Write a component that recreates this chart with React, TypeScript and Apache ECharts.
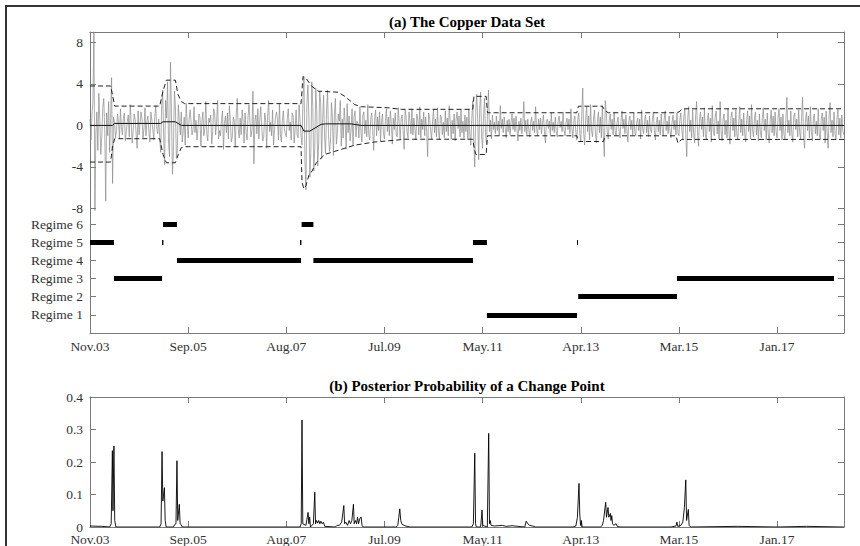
import { useEffect, useRef } from "react";
import * as echarts from "echarts";

// ---------- axes ----------
const xTickIndex = [0, 500, 1000, 1500, 2000, 2500, 3000, 3500];
const xTickLabels = ["Nov.03", "Sep.05", "Aug.07", "Jul.09", "May.11", "Apr.13", "Mar.15", "Jan.17"];
const xMax = 3841;
const yTicks = [8, 4, 0, -4, -8];
const regimeNames = ["Regime 1", "Regime 2", "Regime 3", "Regime 4", "Regime 5", "Regime 6"];
const regimeLevels = [-18.25, -16.5, -14.75, -13, -11.25, -9.5];

// ---------- copper returns (sampled every 5 observations, blocks of 250 obs) ----------
const sampleStep = 5;
const returnsBlock00 = [0.6, -1.4, 1.1, 2.2, 9.5, -8.2, -0.7, 1.3, -2.4, 3.1, 0.5, -2.8, -1.1, 1.7, 2.6, -0.4, -7.3, 1.2, -1.0, 2.3, -2.6, 0.7, 4.6, -5.6, 0.8, 0.3, -1.2, -0.5, 1.1, 0.4, -1.3, 1.6, -0.2, -0.9, 0.7, 1.2, -1.5, -0.6, 0.4, 1.0, -1.1, 2.0, 0.2, -1.7, -0.5, 1.1, 0.6, -0.8, -2.2, 1.4];
const returnsBlock01 = [-0.9, 0.2, 1.3, 0.6, -1.2, -0.3, 1.7, -1.0, 0.4, 0.9, -0.6, -1.6, 1.3, 0.5, -0.4, -1.4, 0.8, 1.9, -0.3, -0.8, 0.6, -1.1, -2.6, 1.8, 3.4, -0.9, -3.8, 2.4, 0.7, 4.2, -1.6, -3.0, 6.1, 1.2, -4.7, -2.5, 3.3, 1.9, -3.1, -2.4, 2.0, 0.5, -0.9, 1.3, -1.6, -0.5, 0.8, -1.9, 2.1, 0.3];
const returnsBlock02 = [-1.2, 0.6, 1.5, 0.3, -0.9, -0.4, 1.8, -0.7, 0.5, -1.4, -0.3, 1.1, 0.8, -2.0, 0.4, 1.3, -1.0, -0.2, 2.3, -0.8, -1.5, 0.7, 0.3, 1.0, -1.8, -0.6, 1.6, 1.2, -0.9, 0.4, 2.4, -1.3, -0.5, -1.0, 0.6, 1.4, -2.3, 0.2, 0.9, -0.7, 1.2, -1.3, 1.9, 0.5, -1.6, -1.1, 0.8, 0.4, -2.1, 1.0];
const returnsBlock03 = [2.6, -0.3, -1.2, 0.7, -0.9, 1.5, 0.4, -1.7, 1.2, -0.6, -1.4, 0.8, 2.0, 0.3, -1.1, -0.5, 3.3, -3.7, 0.4, 1.0, -0.8, 1.6, -1.3, 0.6, 1.8, -0.2, -1.5, -1.1, 1.2, 0.5, -2.2, 0.9, 2.4, -0.6, 0.3, -1.0, 1.5, -1.9, -0.4, 0.8, 1.3, 0.6, -1.4, 2.1, -0.9, -1.6, 0.5, 1.4, -0.3, -0.8];
const returnsBlock04 = [-1.1, 0.7, 1.6, -0.5, 0.3, -1.4, 1.2, 0.9, -1.7, -0.4, 1.5, -0.9, -1.2, 2.0, 0.6, -1.0, -1.9, 2.8, 4.7, -3.4, -6.2, 2.1, 3.9, 0.8, -5.0, -2.6, 4.2, 1.8, -4.4, -2.2, 3.6, 1.5, -3.9, -1.7, 3.3, 2.2, -3.2, 0.6, 2.9, -1.2, -2.7, 1.4, 3.4, -0.9, -2.5, -1.6, 2.2, 0.8, -2.9, 1.0];
const returnsBlock05 = [2.6, -1.8, -0.8, 1.1, 0.4, 2.4, -2.0, 0.6, -1.2, 1.7, 0.3, -2.3, 2.1, -0.7, 0.9, -1.5, -0.5, 1.6, -1.9, 0.8, 1.4, -1.1, 0.4, 0.2, -1.2, 1.8, -0.6, -1.6, 0.9, 1.3, -0.8, 0.5, -1.1, 2.0, -0.9, -1.4, 0.6, 1.2, -0.4, -2.4, 0.7, 1.5, -1.0, 0.8, -0.5, 1.3, -1.5, 0.4, 1.1, -0.8];
const returnsBlock06 = [-1.3, 0.5, 1.6, -0.6, 0.8, -1.0, 1.4, 0.2, -1.8, 0.7, -0.4, 1.2, -0.9, -1.1, 1.7, 0.3, -1.3, 0.6, 1.0, -0.5, -2.3, 1.5, 0.9, -0.6, -1.2, 1.3, 0.4, -0.8, 1.6, -0.9, 0.7, -0.3, -1.4, 1.1, 0.5, -0.9, 1.8, -1.2, 0.6, -0.4, 1.3, -1.0, 0.8, -0.6, -3.0, 1.2, 0.7, -0.5, -1.3, 0.4];
const returnsBlock07 = [1.5, -0.7, 0.6, -1.1, 1.7, -0.5, -1.4, 1.0, 0.8, -0.9, 0.3, -1.2, 1.4, -0.6, 0.7, -1.0, 1.9, 0.4, -1.3, 0.5, -0.8, 1.1, -1.5, 0.6, 1.3, -0.3, 0.9, -1.1, 1.5, -0.7, 0.4, -1.2, 1.0, -0.6, 0.8, -1.4, 1.6, -0.9, -1.9, 0.7, 2.4, -1.5, -4.0, 1.4, 3.0, 0.6, -3.3, 1.6, 3.2, -1.1];
const returnsBlock08 = [-2.2, 1.0, 2.6, -0.9, -1.8, 1.2, 3.4, -0.6, 0.5, -1.3, 1.0, -0.4, 0.3, -0.8, 0.9, -0.5, 0.4, -1.0, 1.9, -0.3, 0.6, -0.7, 0.8, -0.2, -1.2, 0.5, -0.6, 0.6, -0.9, 0.3, 1.1, -0.4, 0.7, -0.6, 0.9, -0.3, -1.5, 0.4, -0.5, 0.7, -0.8, 0.2, 2.3, -0.6, 0.5, -0.9, 0.6, -0.4, -1.1, 0.3];
const returnsBlock09 = [0.8, -0.5, 0.4, -0.7, 1.8, -0.3, -1.0, 0.6, -0.4, 0.7, -0.8, 0.3, 1.0, -0.6, -1.7, 0.5, 0.6, -0.3, 0.4, -0.9, 1.2, -0.5, 0.3, -0.7, 0.8, -0.6, -1.1, 0.5, 0.9, -0.2, 0.4, -0.6, 1.3, -0.5, -1.0, 0.3, 0.7, -0.4, 0.6, -0.8, 1.6, -0.3, -1.2, 0.5, 0.9, -0.7, -1.4, 0.6, 1.2, -0.8];
const returnsBlock10 = [-1.6, 1.0, 3.6, -0.8, -1.9, 0.7, 1.8, -0.6, 0.9, -1.4, 2.0, -0.5, -1.1, 0.6, 1.5, -0.9, -1.7, 0.4, 1.3, -0.7, 0.8, -1.2, 1.9, -1.0, -3.0, 2.4, 1.2, -0.6, -1.3, 0.5, 1.1, -0.4, 0.6, -0.9, 1.3, -0.5, -1.0, 0.3, 0.8, -0.6, -1.2, 0.4, 1.4, -0.3, 0.6, -0.8, 1.0, -0.5, -1.6, 0.4];
const returnsBlock11 = [0.9, -0.4, 0.5, -0.9, 1.2, -0.6, -1.0, 0.3, 0.7, -0.5, 0.6, -1.3, 1.5, -0.3, -0.8, 0.4, 1.0, -0.7, 0.5, -1.1, 0.9, -0.4, -0.7, 0.6, 1.3, -0.5, -1.4, 0.3, 0.8, -0.6, 0.5, -0.9, 1.1, -0.3, -1.0, 0.6, 1.4, -0.5, 0.4, -0.8, 0.9, -0.6, -1.2, 0.3, 1.0, -0.4, 0.5, -0.9, 1.2, -0.7];
const returnsBlock12 = [-1.0, 0.6, 1.2, -0.5, -1.3, 0.8, 1.6, -0.9, -3.0, 0.7, 1.8, -0.6, 0.5, -1.2, 1.5, -0.8, -1.7, 0.9, 2.3, -0.7, -2.0, 0.6, 1.3, -0.4, 0.8, -1.1, 1.7, -0.9, -1.4, 0.5, 1.2, -0.6, 0.7, -1.6, 1.9, -0.5, -1.0, 0.9, 1.4, -0.8, 0.4, -1.3, 2.3, -0.7, -1.5, 0.6, 1.1, -0.9, 0.5, -1.2];
const returnsBlock13 = [1.6, -0.6, -1.8, 0.8, 1.3, -0.5, 0.7, -1.1, 1.5, -0.9, -1.4, 0.4, 1.8, -0.7, 0.6, -1.0, 1.2, -0.8, -1.6, 0.5, 1.4, -0.6, 0.9, -1.3, 2.0, -0.4, -1.1, 0.7, 1.3, -0.9, 0.5, -1.5, 1.1, -0.6, -1.2, 0.8, 1.7, -0.5, 0.6, -1.4, 1.2, -0.8, -1.7, 0.4, 1.5, -0.7, 0.9, -1.0, 1.3, -0.6];
const returnsBlock14 = [-1.2, 0.7, 1.6, -0.5, 0.8, -1.4, 1.1, -0.9, -1.3, 0.6, 2.7, -0.7, 0.5, -1.0, 1.4, -0.8, -1.6, 0.9, 1.2, -0.4, 0.6, -1.1, 1.5, -0.7, -1.3, 0.8, 2.7, -1.0, -2.2, 0.6, 1.3, -0.5, 0.9, -1.2, 1.8, -0.6, -1.5, 0.7, 1.1, -0.8, 0.4, -1.0, 1.6, -0.9, -1.4, 0.6, 1.2, -0.5, 0.8, -1.7];
const returnsBlock15 = [1.4, -0.6, -2.2, 0.9, 2.2, -0.7, 0.5, -1.1, 1.3, -0.8, -1.4, 0.6, 1.5, -0.9, 0.7, -1.2, 1.0, -0.5, -0.9];

// ---------- fitted bands [observation, value] ----------
const upperBand = [[0, 3.8], [105, 3.8], [115, 2.9], [126, 1.86], [355, 1.86], [372, 3.3], [389, 4.36], [435, 4.36], [448, 3.0], [465, 2.3], [482, 2.1], [1075, 2.1], [1085, 4.7], [1102, 4.5], [1128, 3.8], [1162, 3.3], [1264, 3.2], [1298, 2.8], [1349, 2.0], [1383, 1.8], [1518, 1.7], [1586, 1.55], [1950, 1.55], [1956, 2.8], [2018, 2.8], [2025, 1.22], [2480, 1.22], [2488, 1.85], [2610, 1.85], [2622, 1.45], [2640, 1.22], [2985, 1.22], [3000, 1.3], [3020, 1.6], [3841, 1.6]];
const lowerBand = [[0, -3.53], [105, -3.53], [115, -2.0], [126, -1.28], [355, -1.28], [372, -2.8], [389, -3.6], [435, -3.6], [450, -2.8], [465, -2.15], [482, -2.05], [1075, -2.05], [1080, -5.5], [1090, -6.1], [1100, -5.8], [1115, -4.8], [1128, -4.5], [1153, -3.6], [1196, -2.8], [1247, -2.5], [1349, -1.9], [1450, -1.6], [1569, -1.4], [1600, -1.33], [1950, -1.33], [1958, -2.3], [1966, -2.8], [2018, -2.8], [2025, -1.0], [2480, -1.0], [2488, -1.55], [2615, -1.55], [2625, -1.0], [2985, -1.0], [2995, -1.7], [3005, -1.5], [3015, -1.35], [3841, -1.35]];
const meanLine = [[0, 0.0], [115, 0.0], [125, 0.19], [360, 0.19], [372, 0.35], [435, 0.35], [465, 0.0], [1075, 0.0], [1090, -0.55], [1120, -0.55], [1177, 0.1], [1200, 0.15], [1330, 0.15], [1380, 0.0], [3841, 0.0]];

// ---------- regimes [regime, start, end] ----------
const regimeSegments = [
  [5, 0, 122], [3, 122, 367], [5, 367, 374], [6, 372, 443], [4, 443, 1075], [5, 1070, 1077],
  [6, 1078, 1138], [4, 1138, 1951], [5, 1951, 2022], [1, 2022, 2481], [5, 2481, 2486],
  [2, 2487, 2990], [3, 2990, 3790],
];

// ---------- posterior probability of a change point [observation, prob] ----------
const changeProb = [
  [0, 0.003], [60, 0.002], [100, 0], [108, 0.01], [114, 0.235], [117, 0.05], [122, 0.249], [126, 0.02], [132, 0],
  [355, 0], [362, 0.01], [367, 0.232], [371, 0.08], [379, 0.121], [383, 0.02], [388, 0],
  [425, 0], [432, 0.008], [438, 0.01], [443, 0.204], [447, 0.02], [455, 0.07], [459, 0.01], [464, 0.008], [470, 0],
  [1070, 0], [1076, 0.01], [1080, 0.329], [1084, 0.01], [1100, 0.005], [1111, 0.045], [1115, 0.01], [1119, 0.03], [1123, 0.0],
  [1138, 0.01], [1145, 0.107], [1149, 0.01], [1154, 0.02], [1160, 0.012], [1165, 0.02], [1171, 0.01], [1176, 0.018], [1183, 0.01], [1189, 0.015], [1196, 0.002],
  [1250, 0], [1258, 0.005], [1270, 0.005], [1282, 0.015], [1293, 0.066], [1297, 0.01], [1303, 0.015], [1312, 0.005], [1320, 0.02], [1327, 0.01], [1334, 0.02],
  [1342, 0.07], [1346, 0.01], [1352, 0.02], [1358, 0.01], [1363, 0.03], [1368, 0.01], [1374, 0.025], [1381, 0.031], [1386, 0.005], [1392, 0],
  [1560, 0], [1568, 0.005], [1573, 0.03], [1578, 0.056], [1583, 0.02], [1590, 0.008], [1600, 0.005], [1615, 0.002], [1630, 0],
  [1945, 0], [1953, 0.01], [1960, 0.227], [1964, 0.01], [1968, 0], [1990, 0.0], [1997, 0.052], [2001, 0.005], [2024, 0.0],
  [2031, 0.288], [2035, 0.01], [2039, 0.02], [2043, 0.005], [2060, 0.003], [2100, 0.005], [2120, 0.002], [2150, 0.004], [2180, 0.002],
  [2215, 0.0], [2222, 0.018], [2230, 0.01], [2240, 0.005], [2255, 0.003], [2270, 0.0],
  [2460, 0], [2475, 0.003], [2483, 0.03], [2491, 0.134], [2495, 0.04], [2499, 0.005], [2503, 0.02], [2507, 0.0],
  [2600, 0], [2610, 0.005], [2616, 0.02], [2627, 0.076], [2631, 0.03], [2639, 0.06], [2643, 0.03], [2651, 0.042], [2654, 0.02], [2658, 0.035], [2662, 0.01],
  [2668, 0.005], [2674, 0.008], [2680, 0.01], [2686, 0.002], [2700, 0],
  [2960, 0], [2985, 0.003], [2990, 0.015], [2994, 0.002], [3010, 0.005], [3020, 0.015], [3028, 0.06], [3035, 0.145], [3039, 0.02], [3048, 0.054], [3052, 0.005], [3060, 0],
  [3300, 0.002], [3500, 0.0], [3650, 0.002], [3841, 0],
];

const allReturns = [
  ...returnsBlock00, ...returnsBlock01, ...returnsBlock02, ...returnsBlock03,
  ...returnsBlock04, ...returnsBlock05, ...returnsBlock06, ...returnsBlock07,
  ...returnsBlock08, ...returnsBlock09, ...returnsBlock10, ...returnsBlock11,
  ...returnsBlock12, ...returnsBlock13, ...returnsBlock14, ...returnsBlock15,
];

export default function App() {
  const ref = useRef<HTMLDivElement>(null);

  useEffect(() => {
    if (!ref.current) return;
    const chart = echarts.init(ref.current, undefined, { renderer: "svg" });

    const font = "Liberation Serif";
    const axisColor = "#7a7a7a";
    const labelStyle = { fontFamily: font, fontSize: 13.5, color: "#333" };
    const yTopTicks = [...yTicks, ...regimeLevels];

    const xLabelFmt = (v: number) => {
      const k = xTickIndex.indexOf(v);
      return k >= 0 ? xTickLabels[k] : "";
    };
    const yTopFmt = (v: number) => {
      const k = regimeLevels.findIndex((r) => Math.abs(r - v) < 1e-6);
      return k >= 0 ? regimeNames[k] : String(v);
    };

    const mkX = (grid: number, pos: "top" | "bottom", labels: boolean, margin: number) => ({
      gridIndex: grid,
      type: "value",
      min: 0,
      max: xMax,
      position: pos,
      axisLine: { show: true, onZero: false, lineStyle: { color: axisColor, width: 1 } },
      axisTick: { show: true, inside: true, length: 6, customValues: xTickIndex, lineStyle: { color: axisColor } },
      axisLabel: labels
        ? { show: true, customValues: xTickIndex, margin, formatter: xLabelFmt, lineHeight: 12, ...labelStyle }
        : { show: false },
      splitLine: { show: false },
    });

    const option: any = {
      animation: false,
      backgroundColor: "#fff",
      grid: [
        { left: 90, top: 32, width: 754, height: 301, show: false, containLabel: false, outerBoundsMode: "none" },
        { left: 90, top: 397, width: 754, height: 130, show: false, containLabel: false, outerBoundsMode: "none" },
      ],
      xAxis: [mkX(0, "bottom", true, 7), mkX(0, "top", false, 0), mkX(1, "bottom", true, 6), mkX(1, "top", false, 0)],
      yAxis: [
        {
          gridIndex: 0, type: "value", min: -20, max: 9, position: "left",
          axisLine: { show: true, onZero: false, lineStyle: { color: axisColor } },
          axisTick: { show: true, inside: true, length: 6, customValues: yTopTicks, lineStyle: { color: axisColor } },
          axisLabel: { show: true, customValues: yTopTicks, margin: 7, formatter: yTopFmt, ...labelStyle },
          splitLine: { show: false },
        },
        {
          gridIndex: 0, type: "value", min: -20, max: 9, position: "right",
          axisLine: { show: true, onZero: false, lineStyle: { color: axisColor } },
          axisTick: { show: true, inside: true, length: 6, customValues: yTopTicks, lineStyle: { color: axisColor } },
          axisLabel: { show: false },
          splitLine: { show: false },
        },
        {
          gridIndex: 1, type: "value", min: 0, max: 0.4, interval: 0.1, position: "left",
          axisLine: { show: true, onZero: false, lineStyle: { color: axisColor } },
          axisTick: { show: true, inside: true, length: 6, lineStyle: { color: axisColor } },
          axisLabel: { show: true, margin: 7, lineHeight: 12, ...labelStyle },
          splitLine: { show: false },
        },
        {
          gridIndex: 1, type: "value", min: 0, max: 0.4, interval: 0.1, position: "right",
          axisLine: { show: true, onZero: false, lineStyle: { color: axisColor } },
          axisTick: { show: true, inside: true, length: 6, lineStyle: { color: axisColor } },
          axisLabel: { show: false },
          splitLine: { show: false },
        },
      ],
      series: [
        {
          type: "line", xAxisIndex: 0, yAxisIndex: 0, silent: true, showSymbol: false, z: 1,
          data: allReturns.map((v, i) => [i * sampleStep, v]),
          lineStyle: { width: 0.7, color: "#8a8a8a" },
        },
        {
          type: "line", xAxisIndex: 0, yAxisIndex: 0, silent: true, showSymbol: false, z: 3,
          data: upperBand, lineStyle: { width: 1, color: "#222", type: [5, 3] },
        },
        {
          type: "line", xAxisIndex: 0, yAxisIndex: 0, silent: true, showSymbol: false, z: 3,
          data: lowerBand, lineStyle: { width: 1, color: "#222", type: [5, 3] },
        },
        {
          type: "line", xAxisIndex: 0, yAxisIndex: 0, silent: true, showSymbol: false, z: 4,
          data: meanLine, lineStyle: { width: 1, color: "#111" },
        },
        {
          type: "lines", coordinateSystem: "cartesian2d", xAxisIndex: 0, yAxisIndex: 0, silent: true, z: 4,
          data: regimeSegments.map(([r, s, e]) => ({
            coords: [[s, regimeLevels[r - 1]], [e, regimeLevels[r - 1]]],
          })),
          lineStyle: { color: "#000", width: 5, opacity: 1, curveness: 0 },
        },
        {
          type: "line", xAxisIndex: 2, yAxisIndex: 2, silent: true, showSymbol: false, z: 3,
          data: changeProb, lineStyle: { width: 0.9, color: "#000" },
        },
      ],
      graphic: [
        {
          type: "rect", silent: true, z: 100,
          shape: { x: 6, y: 6, width: 900, height: 600 },
          style: { fill: "none", stroke: "#333", lineWidth: 2 },
        },
        {
          type: "text", x: 467, y: 22, silent: true,
          style: {
            text: "(a) The Copper Data Set", fontFamily: font, fontWeight: "bold", fontSize: 15,
            fill: "#000", align: "center", textAlign: "center", verticalAlign: "middle", textVerticalAlign: "middle",
          },
        },
        {
          type: "text", x: 467, y: 386, silent: true,
          style: {
            text: "(b) Posterior Probability of a Change Point", fontFamily: font, fontWeight: "bold", fontSize: 15,
            fill: "#000", align: "center", textAlign: "center", verticalAlign: "middle", textVerticalAlign: "middle",
          },
        },
      ],
    };

    chart.setOption(option);
    return () => chart.dispose();
  }, []);

  return (
    <div
      ref={ref}
      style={{ position: "absolute", left: 0, top: 0, width: 860, height: 546 }}
    />
  );
}
